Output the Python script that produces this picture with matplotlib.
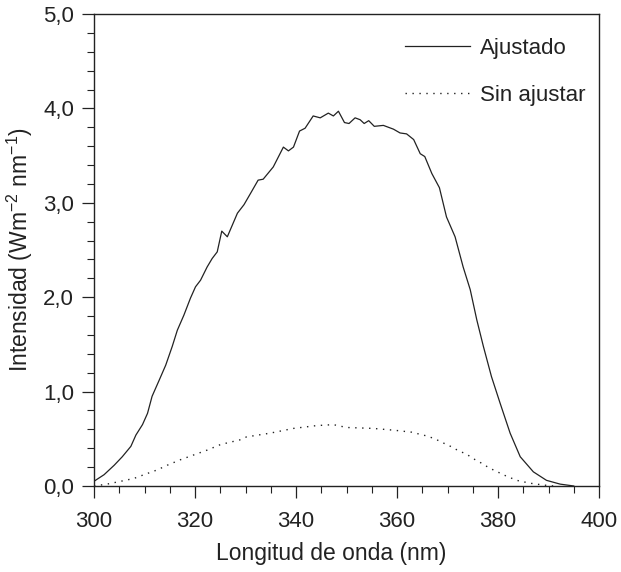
import numpy as np
import matplotlib
matplotlib.use('Agg')
import matplotlib.pyplot as plt
from matplotlib.ticker import MultipleLocator, FuncFormatter

# --- Data ---
# Ajustado (solid curve)
wl_adj = [300, 302, 304, 305.6, 307.3, 308.3, 309.6, 310.6, 311.5, 312.9,
          314.2, 315.5, 316.5, 317.8, 319.1, 320.1, 321.1, 322.4, 323.4, 324.4,
          325.3, 326.4, 328.4, 329.7, 331.0, 332.5, 333.5, 335.5, 337.5, 338.5,
          339.5, 340.7, 341.8, 343.4, 344.8, 346.4, 347.4, 348.4, 349.6, 350.5,
          351.7, 352.7, 353.5, 354.4, 355.5, 357.3, 359.3, 360.6, 361.9, 363.3,
          364.6, 365.5, 366.9, 368.4, 369.8, 371.5, 373.1, 374.5, 375.8, 377.1,
          378.7, 380.4, 382.4, 384.4, 387.0, 389.6, 392.3, 395.0]
int_adj = [0.05, 0.12, 0.22, 0.31, 0.42, 0.54, 0.65, 0.77, 0.95, 1.12,
           1.28, 1.48, 1.65, 1.81, 1.99, 2.11, 2.18, 2.32, 2.41, 2.48,
           2.70, 2.64, 2.89, 2.98, 3.10, 3.24, 3.25, 3.38, 3.59, 3.55,
           3.59, 3.76, 3.79, 3.92, 3.90, 3.95, 3.92, 3.97, 3.85, 3.84,
           3.90, 3.88, 3.84, 3.87, 3.81, 3.82, 3.78, 3.74, 3.73, 3.67,
           3.52, 3.49, 3.31, 3.16, 2.85, 2.64, 2.32, 2.08, 1.76, 1.48,
           1.16, 0.88, 0.56, 0.31, 0.15, 0.06, 0.02, 0.0]

# Sin ajustar (dotted curve)
wl_raw = [300, 302.6, 305.3, 307.9, 309.9, 312.5, 314.5, 317.2, 319.8, 322.4,
          325.1, 329.0, 330.2, 334.9, 339.5, 344.1, 347.4, 350.0, 355.3, 359.6,
          362.9, 365.9, 367.5, 369.0, 370.6, 372.3, 373.7, 375.1, 376.8, 378.3,
          379.9, 381.0, 383.7, 386.3, 389.0, 391.0]
int_raw = [0.0, 0.02, 0.05, 0.08, 0.12, 0.17, 0.22, 0.28, 0.33, 0.38,
           0.44, 0.49, 0.52, 0.56, 0.61, 0.64, 0.65, 0.62, 0.61, 0.59,
           0.57, 0.53, 0.50, 0.46, 0.42, 0.37, 0.34, 0.29, 0.24, 0.19,
           0.15, 0.12, 0.06, 0.03, 0.01, 0.0]

plt.rcParams['font.family'] = ['Liberation Sans', 'DejaVu Sans']
plt.rcParams['mathtext.default'] = 'regular'
FS = 16
INK = '#222222'

fig = plt.figure(figsize=(6.21, 5.72), dpi=100)
ax = fig.add_axes([94 / 621, 86 / 572, 505 / 621, 472 / 572])

ax.plot(wl_adj, int_adj, color=INK, linewidth=0.9, label='Ajustado')
ax.plot(wl_raw, int_raw, color=INK, linewidth=1.0,
        linestyle=(0, (1, 4)), label='Sin ajustar')

ax.set_xlim(300, 400)
ax.set_ylim(0, 5)
ax.xaxis.set_major_locator(MultipleLocator(20))
ax.xaxis.set_minor_locator(MultipleLocator(5))
ax.yaxis.set_major_locator(MultipleLocator(1))
ax.yaxis.set_minor_locator(MultipleLocator(0.2))
ax.yaxis.set_major_formatter(FuncFormatter(lambda v, p: f'{v:.1f}'.replace('.', ',')))

ax.tick_params(which='major', direction='out', length=8.3, width=0.9,
               labelsize=FS, colors=INK)
ax.tick_params(which='minor', direction='out', length=4.7, width=0.8, colors=INK)
ax.tick_params(axis='x', which='major', pad=10)
ax.tick_params(axis='y', which='major', pad=6)
for s in ax.spines.values():
    s.set_linewidth(1.0)
    s.set_color(INK)

ax.set_xlabel('Longitud de onda (nm)', fontsize=16.5, color=INK)
ax.set_ylabel('Intensidad (Wm$^{-2}$ nm$^{-1}$)', fontsize=16.5, color=INK)
ax.xaxis.set_label_coords((331 - 94) / 505, (486 - 542) / 472)
ax.yaxis.set_label_coords((35 - 94) / 505, 0.5)

ax.legend(loc='upper left', bbox_to_anchor=((405 - 94) / 505, (486 - 38) / 472),
          frameon=False, fontsize=FS, handlelength=2.93, handletextpad=0.45,
          labelspacing=1.18, borderpad=0, borderaxespad=0, labelcolor=INK)

fig.savefig('out.png', dpi=100)
